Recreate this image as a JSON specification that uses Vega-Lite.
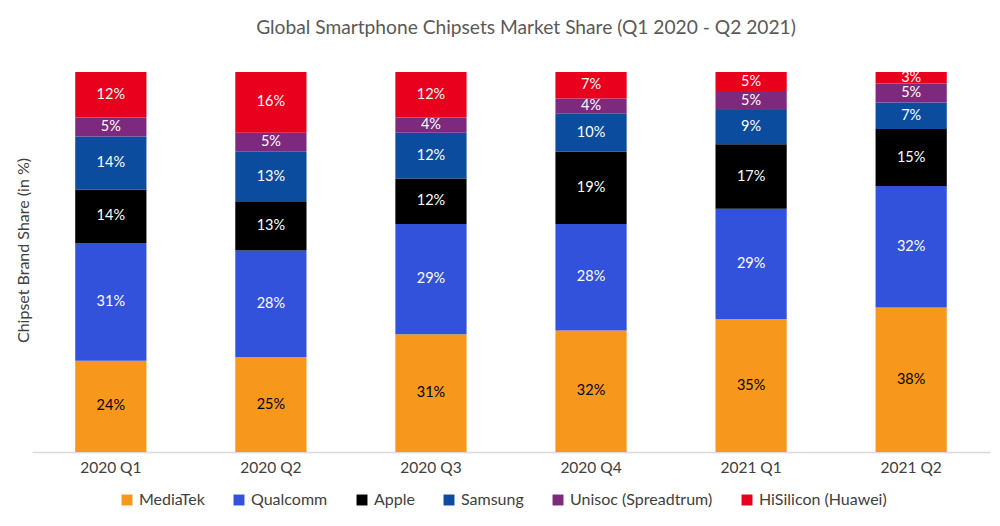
{
  "$schema": "https://vega.github.io/schema/vega-lite/v6.json",
  "autosize": "none",
  "width": 958,
  "height": 380,
  "padding": {"left": 32, "top": 72, "right": 10, "bottom": 74},
  "background": "white",
  "config": {
    "view": {"stroke": null},
    "font": "Lato",
    "title": {"font": "Lato", "fontSize": 19.2, "fontWeight": "normal", "color": "#595959"}
  },
  "title": {"text": "Global Smartphone Chipsets Market Share (Q1 2020 - Q2 2021)", "anchor": "middle", "offset": 32, "dx": 15},
  "data": {
    "values": [
      {"quarter": "2020 Q1", "brand": "MediaTek", "share": 24},
      {"quarter": "2020 Q1", "brand": "Qualcomm", "share": 31},
      {"quarter": "2020 Q1", "brand": "Apple", "share": 14},
      {"quarter": "2020 Q1", "brand": "Samsung", "share": 14},
      {"quarter": "2020 Q1", "brand": "Unisoc (Spreadtrum)", "share": 5},
      {"quarter": "2020 Q1", "brand": "HiSilicon (Huawei)", "share": 12},
      {"quarter": "2020 Q2", "brand": "MediaTek", "share": 25},
      {"quarter": "2020 Q2", "brand": "Qualcomm", "share": 28},
      {"quarter": "2020 Q2", "brand": "Apple", "share": 13},
      {"quarter": "2020 Q2", "brand": "Samsung", "share": 13},
      {"quarter": "2020 Q2", "brand": "Unisoc (Spreadtrum)", "share": 5},
      {"quarter": "2020 Q2", "brand": "HiSilicon (Huawei)", "share": 16},
      {"quarter": "2020 Q3", "brand": "MediaTek", "share": 31},
      {"quarter": "2020 Q3", "brand": "Qualcomm", "share": 29},
      {"quarter": "2020 Q3", "brand": "Apple", "share": 12},
      {"quarter": "2020 Q3", "brand": "Samsung", "share": 12},
      {"quarter": "2020 Q3", "brand": "Unisoc (Spreadtrum)", "share": 4},
      {"quarter": "2020 Q3", "brand": "HiSilicon (Huawei)", "share": 12},
      {"quarter": "2020 Q4", "brand": "MediaTek", "share": 32},
      {"quarter": "2020 Q4", "brand": "Qualcomm", "share": 28},
      {"quarter": "2020 Q4", "brand": "Apple", "share": 19},
      {"quarter": "2020 Q4", "brand": "Samsung", "share": 10},
      {"quarter": "2020 Q4", "brand": "Unisoc (Spreadtrum)", "share": 4},
      {"quarter": "2020 Q4", "brand": "HiSilicon (Huawei)", "share": 7},
      {"quarter": "2021 Q1", "brand": "MediaTek", "share": 35},
      {"quarter": "2021 Q1", "brand": "Qualcomm", "share": 29},
      {"quarter": "2021 Q1", "brand": "Apple", "share": 17},
      {"quarter": "2021 Q1", "brand": "Samsung", "share": 9},
      {"quarter": "2021 Q1", "brand": "Unisoc (Spreadtrum)", "share": 5},
      {"quarter": "2021 Q1", "brand": "HiSilicon (Huawei)", "share": 5},
      {"quarter": "2021 Q2", "brand": "MediaTek", "share": 38},
      {"quarter": "2021 Q2", "brand": "Qualcomm", "share": 32},
      {"quarter": "2021 Q2", "brand": "Apple", "share": 15},
      {"quarter": "2021 Q2", "brand": "Samsung", "share": 7},
      {"quarter": "2021 Q2", "brand": "Unisoc (Spreadtrum)", "share": 5},
      {"quarter": "2021 Q2", "brand": "HiSilicon (Huawei)", "share": 3}
    ]
  },
  "transform": [
    {"calculate": "indexof(['MediaTek', 'Qualcomm', 'Apple', 'Samsung', 'Unisoc (Spreadtrum)', 'HiSilicon (Huawei)'], datum.brand)", "as": "brandIndex"}
  ],
  "encoding": {
    "x": {
      "field": "quarter", "type": "nominal",
      "scale": {"paddingInner": 0.555, "paddingOuter": 0.27},
      "axis": {"title": null, "labelAngle": 0, "labelFontSize": 15.5, "labelColor": "#404040", "labelPadding": 8, "ticks": false, "domainColor": "#d9d9d9", "domainWidth": 1.5}
    },
    "y": {
      "field": "share", "type": "quantitative", "stack": "normalize",
      "axis": {"title": "Chipset Brand Share (in %)", "titleFontSize": 16, "titleFontWeight": "normal", "titleColor": "#404040", "titlePadding": 1, "titleY": 178, "labels": false, "ticks": false, "domain": false, "grid": false}
    },
    "order": {"field": "brandIndex", "type": "quantitative", "sort": "ascending"}
  },
  "layer": [
    {
      "mark": {"type": "bar"},
      "encoding": {
        "color": {
          "field": "brand", "type": "nominal",
          "sort": ["MediaTek", "Qualcomm", "Apple", "Samsung", "Unisoc (Spreadtrum)", "HiSilicon (Huawei)"],
          "scale": {
            "domain": ["MediaTek", "Qualcomm", "Apple", "Samsung", "Unisoc (Spreadtrum)", "HiSilicon (Huawei)"],
            "range": ["#F7981D", "#3352DB", "#000000", "#0B4C9E", "#7D2A7E", "#E8001C"]
          },
          "legend": {
            "title": null, "orient": "none", "direction": "horizontal", "columns": 6,
            "legendX": 87, "legendY": 420, "symbolType": "square", "symbolSize": 120,
            "labelFontSize": 16, "labelColor": "#404040", "columnPadding": 26, "symbolStrokeWidth": 0
          }
        }
      }
    },
    {
      "mark": {"type": "text", "fontSize": 14.5, "text": {"expr": "datum.share + '%'"}},
      "encoding": {
        "y": {"field": "share", "type": "quantitative", "stack": "normalize", "bandPosition": 0.5},
        "detail": {"field": "brand"},
        "color": {
          "condition": {"test": "datum.brand === 'MediaTek'", "value": "#000000"},
          "value": "#ffffff"
        }
      }
    }
  ]
}
